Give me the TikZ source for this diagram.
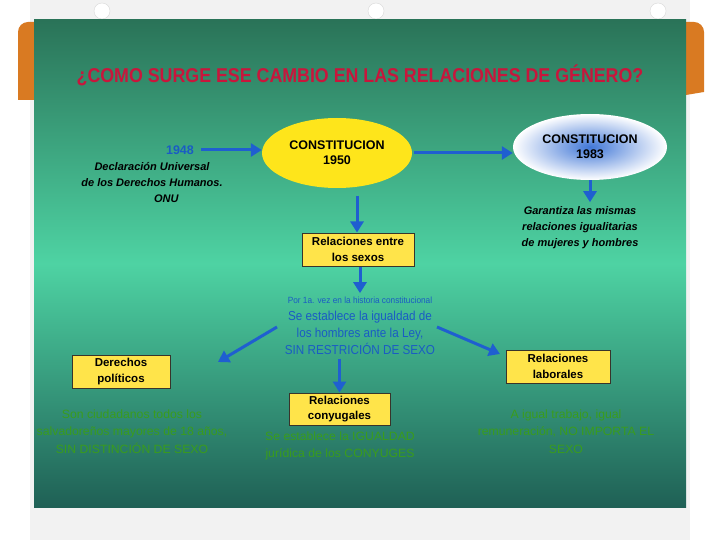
\documentclass[tikz,border=0pt]{standalone}
\usepackage{fontspec}
\setmainfont{Liberation Sans}
\usetikzlibrary{arrows.meta,shapes.geometric}

\definecolor{boardtop}{HTML}{2A7358}
\definecolor{boardmid}{HTML}{4ED3A3}
\definecolor{boardbot}{HTML}{1F6055}
\definecolor{titlered}{HTML}{C8163C}
\definecolor{arrowblue}{HTML}{1F5FD0}
\definecolor{textblue}{HTML}{1A5CC4}
\definecolor{notegreen}{HTML}{3A9C1C}
\definecolor{boxyellow}{HTML}{FFE44A}
\definecolor{tabor}{HTML}{D97A22}

\tikzset{
  flowarrow/.style={draw=arrowblue, line width=3pt, -{Triangle[length=11pt,width=13pt]}},
  topicbox/.style={draw=black!80!olive, line width=1pt, fill=boxyellow, align=center,
    font=\bfseries\fontsize{11.5}{15.5}\selectfont, inner sep=1pt},
  boldnote/.style={align=center, font=\bfseries\itshape\fontsize{11}{16}\selectfont},
  greennote/.style={align=center, text=notegreen, font=\fontsize{12}{17.5}\selectfont}
}

\begin{document}
\begin{tikzpicture}[x=1pt,y=-1pt]
\useasboundingbox (0,0) rectangle (720,540);
\fill[white] (0,0) rectangle (720,540);

% paper, tabs and holes
\fill[black!5] (30,0) rectangle (690,540);
\fill[tabor] (18,100) -- (18,32) to[out=90,in=180] (28,22) -- (34,22) -- (34,100) -- cycle;
\fill[tabor] (686,22) -- (694,22) to[out=0,in=90] (704,32) -- (704,92) -- (686,95) -- cycle;
\foreach \hx in {102,376,658}
  \filldraw[fill=white, draw=black!15] (\hx,11) circle (8);

% board
\shade[top color=boardtop, bottom color=boardbot, middle color=boardmid]
  (34,20) rectangle (686,507);

% title
\node[text=titlered, font=\bfseries\fontsize{20}{22}\selectfont, xscale=0.89] (title)
  at (360,75) {¿COMO SURGE ESE CAMBIO EN LAS RELACIONES DE GÉNERO?};

% constitutions
\node[ellipse, fill=yellow!85!orange!90!white, minimum width=150, minimum height=70,
  align=center, font=\bfseries\fontsize{12.5}{15}\selectfont] (c1950) at (337,153)
  {CONSTITUCION\\1950};
\node[ellipse, inner color=arrowblue!85, outer color=white, minimum width=154, minimum height=66,
  align=center, font=\bfseries\fontsize{12.5}{15}\selectfont] (c1983) at (590,147)
  {CONSTITUCION\\1983};

\node[text=textblue, font=\bfseries\fontsize{12.5}{14}\selectfont] (year) at (180,150) {1948};
\node[boldnote, anchor=north] (onu) at (152,159)
  {Declaración Universal\\de los Derechos Humanos.\\\hspace*{2.6em}ONU};

\node[boldnote, anchor=north] (garantiza) at (580,203)
  {Garantiza las mismas\\relaciones igualitarias\\de mujeres y hombres};

% relations
\node[topicbox, minimum width=112, minimum height=33] (sexos) at (358,249.5)
  {Relaciones entre\\los sexos};

\node[text=textblue, font=\fontsize{9}{10}\selectfont, xscale=0.92] (primera) at (360,300)
  {Por 1a. vez en la historia constitucional};
\node[text=textblue, align=center, font=\fontsize{13}{17}\selectfont, xscale=0.9, anchor=north] (igualdad)
  at (360,308) {Se establece la igualdad de\\los hombres ante la Ley,\\SIN RESTRICIÓN DE SEXO};

\node[topicbox, minimum width=98, minimum height=33] (politicos) at (121,371.5) {Derechos\\políticos};
\node[topicbox, minimum width=101, minimum height=32] (conyugales) at (339.5,409) {Relaciones\\conyugales};
\node[topicbox, minimum width=104, minimum height=33] (laborales) at (558,366.5) {Relaciones\\laborales};

\node[greennote, anchor=north, xscale=1.02] (ciudadanos) at (132,406)
  {Son ciudadanos todos los\\salvadoreños mayores de 18 años,\\SIN DISTINCIÓN DE SEXO};
\node[greennote, anchor=north, xscale=1.02] (juridica) at (340,428)
  {Se establece la IGUALDAD\\jurídica de los CONYUGES};
\node[greennote, anchor=north, xscale=1.02] (trabajo) at (566,406)
  {A igual trabajo, igual\\remuneración, NO IMPORTA EL\\SEXO};

% arrows
\draw[flowarrow] (year.east) ++(4,0) -- (year.east -| c1950.west);
\draw[flowarrow] (c1950.east) ++(2,0) -- (c1950.east -| c1983.west);
\draw[flowarrow] (c1983.south) -- ++(0,22);
\draw[flowarrow] (357,196) -- (sexos.north -| 357,0);
\draw[flowarrow] (sexos.south -| primera.north) -- (primera.north);
\draw[flowarrow] (277,327) -- (218,362);
\draw[flowarrow] (437,327) -- (500,354);
\draw[flowarrow] (igualdad.south -| conyugales.north) -- (conyugales.north);
\end{tikzpicture}
\end{document}
